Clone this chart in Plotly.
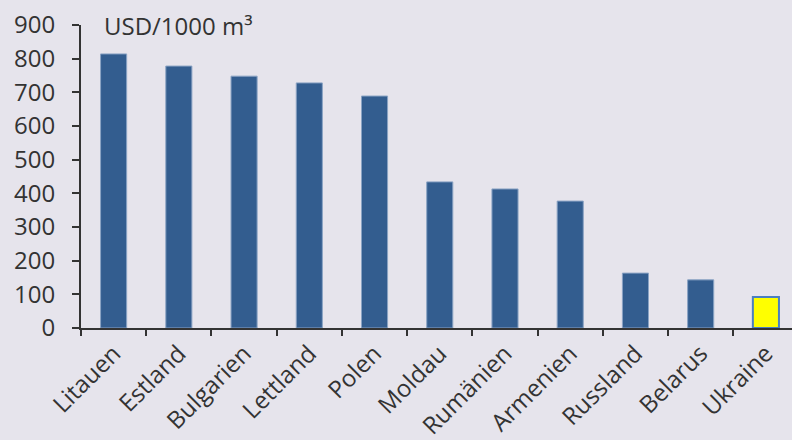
import plotly.graph_objects as go

countries = ["Litauen", "Estland", "Bulgarien", "Lettland", "Polen", "Moldau",
             "Rumänien", "Armenien", "Russland", "Belarus", "Ukraine"]
prices = [814, 778, 748, 728, 689, 434, 413, 377, 163, 143, 92]

colors = ["#335d8f"] * 10 + ["#ffff00"]
line_colors = ["#8aa3c4"] * 10 + ["#4a7fc1"]

fig = go.Figure(go.Bar(
    x=countries, y=prices, width=0.4,
    marker=dict(color=colors, line=dict(color=line_colors, width=[1] * 10 + [2])),
))

bg = "#e6e4ec"
font = "Open Sans"
fig.update_layout(
    width=792, height=440,
    margin=dict(l=81, r=0, t=25, b=112),
    paper_bgcolor=bg, plot_bgcolor=bg,
    showlegend=False,
    font=dict(family=font, size=23, color="#333333"),
    xaxis=dict(
        range=[-0.5, 10.4], tickson="boundaries", ticks="outside", ticklen=6,
        tickwidth=2, tickcolor="#333333", showline=True, linecolor="#333333",
        linewidth=2, tickangle=-45, showgrid=False, tickfont=dict(size=24),
    ),
    yaxis=dict(
        range=[0, 900], dtick=100, ticks="outside", ticklen=7, tickwidth=2,
        tickcolor="#333333", showline=True, linecolor="#333333", linewidth=2,
        showgrid=False, zeroline=False, tickfont=dict(size=24),
        ticklabelstandoff=12,
    ),
    annotations=[dict(
        text="USD/1000 m³", x=0.03, y=1.0, xref="paper", yref="paper",
        xanchor="left", yanchor="middle", showarrow=False,
        font=dict(size=24, color="#333333", family=font),
    )],
)

fig.write_html("out.html")
